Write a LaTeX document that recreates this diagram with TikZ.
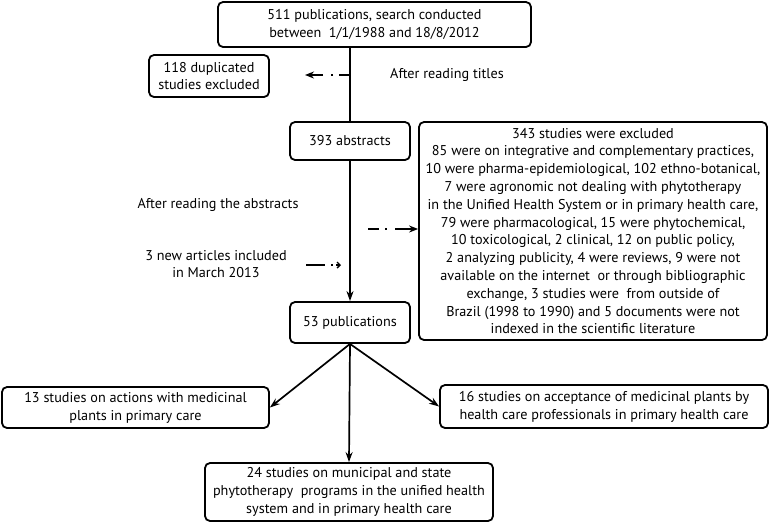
\documentclass[tikz,border=0pt]{standalone}
\usepackage{fontspec}
\setmainfont{PT Sans}
\usetikzlibrary{arrows.meta}
\begin{document}
\begin{tikzpicture}[x=1pt,y=-1pt,
  font=\fontsize{14.2}{17.8}\selectfont,
  box/.style={draw, line width=1.8pt, rounded corners=5pt, align=center, inner sep=0pt},
  lbl/.style={align=center, inner sep=0pt},
  arr/.style={line width=1.7pt, -{Stealth[length=10pt,width=7pt]}},
  dasharr/.style={line width=1.7pt, -{Stealth[length=9pt,width=7pt]}, dash pattern=on 11pt off 6pt on 2pt off 8pt on 40pt},
  smallarr/.style={line width=1.4pt, -{Straight Barb[length=3pt,width=6pt]}, dash pattern=on 19pt off 6pt on 2pt off 3pt on 20pt}]
\useasboundingbox (0,0) rectangle (771,523);

\node[box, minimum width=313pt, minimum height=45pt] (A) at (374.5,24.5) {511 publications, search conducted\\between\ \ 1/1/1988 and 18/8/2012};
\node[box, minimum width=120pt, minimum height=42pt] (B) at (209,76) {118 duplicated\\studies excluded};
\node[lbl] (T1) at (447,75) {After reading titles};
\node[box, minimum width=120pt, minimum height=38pt] (C) at (350,141) {393 abstracts};
\node[box, minimum width=348pt, minimum height=218pt] (D) at (593,231) {343 studies were excluded\\
85 were on integrative and complementary practices,\\
10 were pharma-epidemiological, 102 ethno-botanical,\\
7 were agronomic not dealing with phytotherapy\\
in the Unified Health System or in primary health care,\\
79 were pharmacological, 15 were phytochemical,\\
10 toxicological, 2 clinical, 12 on public policy,\\
2 analyzing publicity, 4 were reviews, 9 were not\\
available on the internet\ \ or through bibliographic\\
exchange, 3 studies were\ \ from outside of\\
Brazil (1998 to 1990) and 5 documents were not\\
indexed in the scientific literature};
\node[lbl] (T2) at (218,205) {After reading the abstracts};
\node[lbl] (T3) at (216,264) {3 new articles included\\in March 2013};
\node[box, minimum width=120pt, minimum height=41pt] (E) at (350,322.5) {53 publications};
\node[box, minimum width=267pt, minimum height=41pt] (F) at (135.5,407.5) {13 studies on actions with medicinal\\plants in primary care};
\node[box, minimum width=328pt, minimum height=43pt] (G) at (604,406.5) {16 studies on acceptance of medicinal plants by\\health care professionals in primary health care};
\node[box, minimum width=288pt, minimum height=58pt] (H) at (349,492) {24 studies on municipal and state\\phytotherapy\ \ programs in the unified health\\system and in primary health care};

\draw[line width=1.7pt] (A.south -| C.north) -- (C.north);
\coordinate (p1) at (350,75);
\coordinate (b1) at (305,75);
\draw[dasharr] (p1) -- (b1);
\draw[arr] (C.south) -- (E.north);
\coordinate (p2) at (368,229);
\draw[dasharr] (p2) -- (D.west |- p2);
\coordinate (p3) at (306,265);
\coordinate (p4) at (341,265);
\draw[smallarr] (p3) -- (p4);
\draw[arr] (E.south) -- (F.east);
\draw[arr] (E.south) -- (G.west);
\draw[arr] (E.south) -- (H.north);
\end{tikzpicture}
\end{document}
